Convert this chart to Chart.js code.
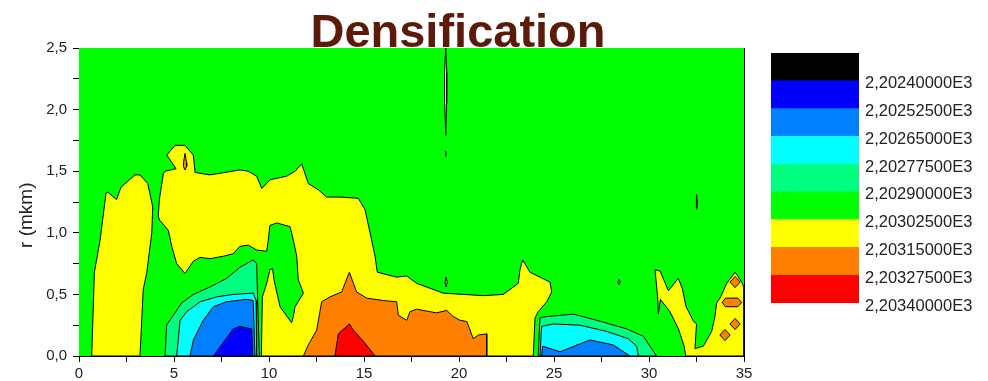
<!DOCTYPE html>
<html>
<head>
<meta charset="utf-8">
<script src="https://cdn.jsdelivr.net/npm/chart.js@4.4.1/dist/chart.umd.min.js"></script>
<style>
  body { margin: 0; background: #fff; }
  #wrap { position: relative; width: 988px; height: 381px; overflow: hidden; }
  #plot { position: absolute; left: 0; top: 0; }
  #bar { position: absolute; left: 760px; top: 0; }
  #title {
    position: absolute; left: 258px; top: 7px; width: 400px; text-align: center;
    font: bold 47px "Liberation Sans", Arial, sans-serif; line-height: 47px; color: #5c1a08;
  }
</style>
</head>
<body>
<div id="wrap">
  <canvas id="plot" width="760" height="381"></canvas>
  <canvas id="bar" width="228" height="381"></canvas>
  <div id="title">Densification</div>
</div>
<script>
// contour levels, bottom of the colour bar first
const levelLabels = ['2,20340000E3', '2,20327500E3', '2,20315000E3', '2,20302500E3', '2,20290000E3',
  '2,20277500E3', '2,20265000E3', '2,20252500E3', '2,20240000E3'];
const levelColors = ['#ff0000', '#ff8000', '#ffff00', '#00ff00', '#00ff80',
  '#00ffff', '#0080ff', '#0000ff', '#000000'];

// contour outlines as [x, r] pairs
const yellowLeft = [[0.67,0],[0.81,0.68],[1.11,0.94],[1.42,1.32],[1.51,1.33],[1.98,1.27],[2.21,1.37],
  [2.95,1.47],[3.21,1.47],[3.62,1.40],[3.88,1.21],[3.83,1.0],[3.56,0.67],[3.38,0.54],[3.21,0]];

const yellowMain = [[9.6,0],[9.65,0.48],[9.88,0.59],[10.05,0.70],[10.19,0.71],[10.26,0.62],[10.58,0.40],
  [11.19,0.27],[11.28,0.32],[11.37,0.40],[11.81,0.51],[11.54,0.62],[11.46,0.81],[11.28,0.94],[11.11,1.05],
  [10.4,1.08],[10.05,1.06],[9.96,0.94],[9.88,0.85],[9.35,0.86],[8.91,0.90],[8.47,0.89],[8.12,0.83],
  [7.6,0.81],[6.89,0.79],[6.37,0.80],[6.02,0.77],[5.58,0.67],[5.14,0.75],[4.88,0.89],[4.7,1.02],
  [4.26,1.10],[4.17,1.13],[4.23,1.27],[4.44,1.48],[4.53,1.50],[5.11,1.52],[4.62,1.63],[5.05,1.71],
  [5.58,1.71],[6.02,1.63],[6.11,1.49],[6.89,1.47],[8.47,1.51],[8.91,1.50],[9.35,1.46],[9.62,1.36],
  [10.05,1.43],[10.93,1.46],[11.37,1.50],[11.72,1.56],[12.07,1.40],[12.59,1.35],[13.04,1.29],
  [13.74,1.29],[14.7,1.28],[15.05,1.19],[15.32,1.0],[15.58,0.81],[15.7,0.68],[16.72,0.64],[17.25,0.65],
  [17.77,0.59],[19.17,0.51],[20.23,0.50],[21.28,0.49],[22.33,0.50],[23.12,0.59],[23.21,0.70],
  [23.35,0.78],[23.74,0.68],[24.79,0.60],[24.88,0.52],[24.62,0.44],[24.17,0.36],[24.0,0.31],[23.91,0]];

const yellowRight = [[31.93,0],[31.85,0.08],[31.55,0.22],[31.1,0.36],[30.6,0.46],[30.49,0.34],[30.47,0.45],
  [30.32,0.70],[30.58,0.69],[31.02,0.53],[31.54,0.63],[31.75,0.55],[31.95,0.40],[32.35,0.28],[32.5,0.26],
  [32.42,0.06],[32.86,0.08],[33.3,0.20],[33.47,0.32],[33.56,0.43],[33.77,0.48],[34.09,0.59],[34.53,0.68],
  [34.88,0.60],[35,0.55],[35,0]];

const yellowSliver = [[19.3,2.5],[19.36,2.3],[19.35,2.05],[19.3,1.79],[19.25,2.05],[19.24,2.3]];
const yellowSpot = [[19.32,0.64],[19.38,0.60],[19.32,0.56],[19.26,0.60]];

const seafoamA = [[4.53,0],[4.61,0.25],[5.4,0.43],[6.02,0.50],[6.89,0.56],[7.77,0.63],[8.47,0.72],
  [9.17,0.78],[9.35,0.75],[9.49,0]];
const cyanA = [[5.14,0],[5.32,0.29],[5.67,0.36],[6.37,0.44],[7.25,0.48],[8.12,0.50],[9.17,0.51],
  [9.32,0.45],[9.35,0]];
const azureA = [[5.84,0],[6.02,0.13],[6.54,0.29],[7.07,0.40],[7.77,0.44],[8.83,0.46],[9.17,0.45],[9.26,0]];
const blueA = [[7.07,0],[8.12,0.22],[8.47,0.24],[9.09,0.22],[9.14,0]];

const seafoamB = [[24.17,0],[24.26,0.31],[24.62,0.32],[26.02,0.34],[27.25,0.29],[28.83,0.22],
  [29.7,0.16],[30.4,0]];
const cyanB = [[24.26,0],[24.35,0.24],[24.96,0.26],[26.37,0.25],[27.77,0.20],[28.91,0.14],
  [29.35,0.08],[29.44,0]];
const azureB = [[24.35,0],[24.4,0.08],[25.32,0.035],[26.89,0.13],[28.12,0.09],[29.0,0]];

const orangeMain = [[11.81,0],[12.07,0.09],[12.51,0.21],[12.77,0.44],[13.21,0.48],[13.83,0.52],
  [14.0,0.59],[14.23,0.68],[14.44,0.59],[14.61,0.52],[15.14,0.47],[16.02,0.45],[16.72,0.44],
  [16.81,0.33],[17.25,0.29],[17.42,0.36],[17.77,0.38],[18.82,0.35],[19.35,0.37],[19.7,0.32],
  [20.05,0.29],[20.41,0.28],[20.75,0.14],[21.02,0.17],[21.46,0.18],[21.46,0]];
const redCore = [[13.47,0],[13.65,0.18],[14.23,0.26],[14.44,0.21],[14.96,0.12],[15.58,0]];

const orangeDrop = [[5.58,1.645],[5.66,1.57],[5.67,1.54],[5.58,1.51],[5.49,1.54],[5.5,1.57]];
const orangeDiamondA = [[34.26,0.60],[34.53,0.645],[34.8,0.60],[34.53,0.555]];
const orangeHex = [[33.85,0.435],[34.02,0.47],[34.68,0.47],[34.88,0.435],[34.68,0.40],[34.02,0.40]];
const orangeDiamondB = [[34.26,0.26],[34.53,0.305],[34.8,0.26],[34.53,0.215]];
const orangeDiamondC = [[33.73,0.17],[34.0,0.215],[34.27,0.17],[34.0,0.125]];

const greenDot = [[28.42,0.62],[28.5,0.60],[28.42,0.58],[28.34,0.60]];
const greenTick = [[32.51,1.31],[32.54,1.25],[32.51,1.19],[32.48,1.25]];
const greenSpeck = [[19.3,1.66],[19.32,1.64],[19.3,1.62],[19.28,1.64]];

const GREEN = levelColors[3], YELLOW = levelColors[2], ORANGE = levelColors[1], RED = levelColors[0];
const SEAFOAM = levelColors[4], CYAN = levelColors[5], AZURE = levelColors[6], BLUE = levelColors[7];

// drawing order: first entry at the bottom
const layers = [
  [yellowLeft, YELLOW], [yellowMain, YELLOW], [yellowRight, YELLOW],
  [yellowSliver, YELLOW], [yellowSpot, YELLOW],
  [seafoamA, SEAFOAM], [cyanA, CYAN], [azureA, AZURE], [blueA, BLUE],
  [seafoamB, SEAFOAM], [cyanB, CYAN], [azureB, AZURE],
  [orangeMain, ORANGE], [redCore, RED],
  [orangeDrop, ORANGE], [orangeDiamondA, ORANGE], [orangeHex, ORANGE],
  [orangeDiamondB, ORANGE], [orangeDiamondC, ORANGE],
  [greenDot, GREEN], [greenTick, GREEN], [greenSpeck, GREEN]
];

const FONT = "'Liberation Sans', Arial, sans-serif";

function polygon(points, color, order) {
  const data = points.map(p => ({ x: p[0], y: p[1] }));
  data.push({ x: points[0][0], y: points[0][1] });
  return {
    data: data,
    backgroundColor: color,
    borderColor: '#000',
    borderWidth: 1,
    fill: 'shape',
    pointRadius: 0,
    tension: 0,
    order: order
  };
}

// paint the base level (green) under everything
const plotBackground = {
  id: 'plotBackground',
  beforeDatasetsDraw(chart) {
    const { ctx, chartArea } = chart;
    ctx.save();
    ctx.fillStyle = GREEN;
    ctx.fillRect(chartArea.left, chartArea.top, chartArea.width, chartArea.height);
    ctx.restore();
  }
};

new Chart(document.getElementById('plot'), {
  type: 'line',
  data: {
    datasets: layers.map((l, i) => polygon(l[0], l[1], layers.length - i))
  },
  options: {
    responsive: false,
    animation: false,
    layout: { padding: { top: 48, right: 16, left: 0, bottom: 0 } },
    plugins: { legend: { display: false }, tooltip: { enabled: false } },
    scales: {
      x: {
        type: 'linear', position: 'bottom', min: 0, max: 35,
        afterFit: s => { s.height = 25; },
        ticks: {
          stepSize: 2.5, autoSkip: false, maxRotation: 0, padding: 3, color: '#222',
          font: { size: 15, family: FONT },
          callback: v => (v % 5 === 0 ? String(v) : '')
        },
        grid: { drawOnChartArea: false, tickLength: 6, color: '#000' },
        border: { color: '#000', width: 1 }
      },
      y: {
        type: 'linear', position: 'left', min: 0, max: 2.5,
        afterFit: s => { s.width = 79; },
        ticks: {
          stepSize: 0.25, autoSkip: false, padding: 6, color: '#222',
          font: { size: 15, family: FONT },
          callback: v => (Math.abs(v * 2 - Math.round(v * 2)) < 1e-9 ? v.toFixed(1).replace('.', ',') : '')
        },
        grid: { drawOnChartArea: false, tickLength: 6, color: '#000' },
        border: { color: '#000', width: 1 },
        title: {
          display: true, text: 'r (mkm)\u00a0\u00a0\u00a0\u00a0\u00a0', color: '#222',
          font: { size: 19, family: FONT }, padding: { top: 15, bottom: 0 }
        }
      },
      xTop: {
        type: 'linear', position: 'top', min: 0, max: 35,
        afterFit: s => { s.height = 0; },
        ticks: { display: false }, grid: { display: false },
        border: { color: '#000', width: 1 }
      },
      yRight: {
        type: 'linear', position: 'right', min: 0, max: 2.5,
        afterFit: s => { s.width = 0; },
        ticks: { display: false }, grid: { display: false },
        border: { color: '#000', width: 1 }
      }
    }
  },
  plugins: [plotBackground]
});

// colour bar
new Chart(document.getElementById('bar'), {
  type: 'bar',
  data: {
    labels: [''],
    datasets: levelColors.map(c => ({
      data: [1], backgroundColor: c, borderWidth: 0,
      barPercentage: 1, categoryPercentage: 1
    }))
  },
  options: {
    responsive: false,
    animation: false,
    layout: { padding: { left: 11, top: 53, bottom: 78, right: 0 } },
    plugins: { legend: { display: false }, tooltip: { enabled: false } },
    scales: {
      x: { display: false, stacked: true },
      y: {
        stacked: true, position: 'right', min: 0, max: levelColors.length,
        afterFit: s => { s.width = 129; },
        ticks: {
          stepSize: 1, padding: 6, labelOffset: 3, color: '#222',
          font: { size: 16.5, family: FONT },
          callback: v => (levelLabels[v] !== undefined ? levelLabels[v] : '')
        },
        grid: { display: false, drawTicks: false, tickLength: 0 },
        border: { display: false }
      }
    }
  }
});
</script>
</body>
</html>
